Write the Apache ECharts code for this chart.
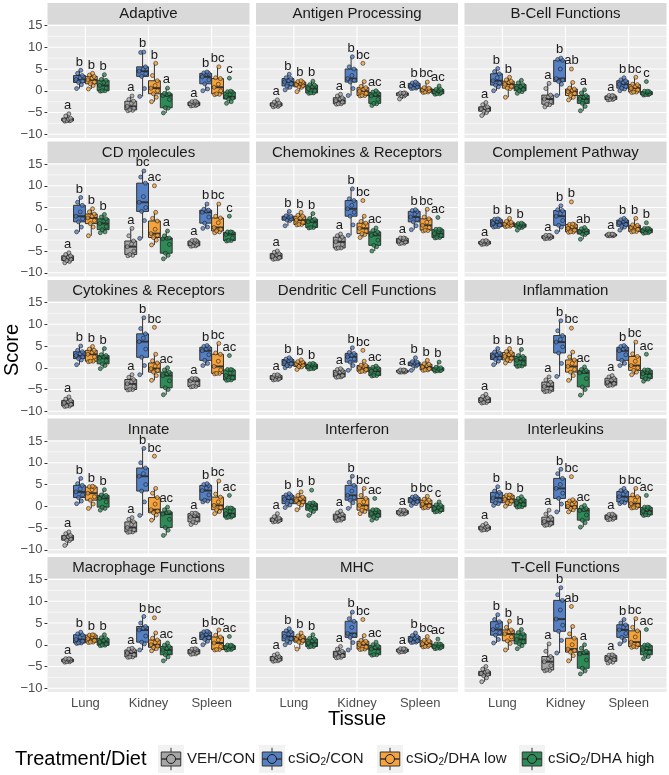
<!DOCTYPE html>
<html><head><meta charset="utf-8">
<script src="https://cdn.jsdelivr.net/npm/echarts@6/dist/echarts.min.js"></script>
<style>html,body{margin:0;padding:0;background:#fff}#c{width:669px;height:775px}</style>
</head><body><div id="c"></div><script>
const tissues = ['Lung', 'Kidney', 'Spleen'];
const treatments = ['VEH/CON', 'cSiO2/CON', 'cSiO2/DHA low', 'cSiO2/DHA high'];
const panelTitles = ['Adaptive', 'Antigen Processing', 'B-Cell Functions', 'CD molecules',
  'Chemokines & Receptors', 'Complement Pathway', 'Cytokines & Receptors', 'Dendritic Cell Functions',
  'Inflammation', 'Innate', 'Interferon', 'Interleukins', 'Macrophage Functions', 'MHC', 'T-Cell Functions'];
const yTicks = [-10, -5, 0, 5, 10, 15];
const yMinor = [-7.5, -2.5, 2.5, 7.5, 12.5];

// Each panel: 12 groups ordered Lung(VEH, CON, DHA low, DHA high), Kidney(...), Spleen(...).
// Each group: first 9 values make the box and whiskers; any further values are outliers.
const adaptive = [
  [-7.0,-6.9,-6.9,-6.8,-6.7,-6.5,-6.3,-5.8,-5.3], [0.5,1.4,1.9,2.2,2.6,3.0,3.5,4.0,4.7],
  [0.4,1.2,1.6,2.0,2.5,2.9,3.3,3.6,4.0], [-0.1,0.0,0.0,0.6,1.2,1.9,2.4,2.6,3.7],
  [-4.6,-4.5,-4.4,-4.0,-3.6,-2.9,-2.4,-2.0,-1.2], [-1.3,0.5,3.3,3.9,4.5,5.0,5.5,8.8,8.9],
  [-2.5,-1.5,-0.7,0.0,0.6,1.2,2.3,3.5,6.3], [-5.1,-4.0,-3.9,-2.0,-1.1,-0.9,-0.7,-0.6,0.6],
  [-3.5,-3.4,-3.4,-3.2,-3.0,-2.8,-2.6,-2.5,-2.4], [0.0,0.4,1.6,2.5,3.2,3.8,4.0,4.1,4.3],
  [-0.9,-0.8,-0.7,0.0,0.8,1.5,2.8,3.0,5.5], [-2.9,-2.5,-1.9,-1.7,-1.4,-0.8,-0.3,-0.2,-0.1,2.9]];
const antigenProcessing = [
  [-3.7,-3.6,-3.5,-3.3,-3.2,-3.0,-2.8,-2.6,-2.1], [0.2,0.8,1.1,1.6,2.0,2.3,2.8,3.0,3.8],
  [-0.2,0.8,0.9,1.2,1.4,1.7,2.0,2.1,2.3], [-0.6,-0.5,-0.5,0.0,0.5,0.9,1.3,1.4,2.2],
  [-3.1,-3.0,-3.0,-2.6,-2.3,-1.9,-1.6,-1.2,-0.8], [-1.1,0.5,2.0,2.4,2.8,3.5,5.0,5.5,7.8],
  [-1.2,-1.1,-1.1,-0.6,-0.1,0.3,0.7,1.0,2.1,6.3], [-3.4,-3.0,-2.9,-2.0,-1.2,-0.8,-0.4,-0.3,0.0],
  [-1.9,-1.2,-1.1,-0.9,-0.8,-0.6,-0.5,-0.5,-0.5], [0.5,0.6,0.6,0.9,1.1,1.4,1.7,1.8,2.0],
  [-0.4,-0.3,-0.3,0.0,0.2,0.4,0.6,0.7,2.0], [-0.8,-0.7,-0.7,-0.4,-0.2,0.0,0.3,0.3,1.1]];
const bCellFunctions = [
  [-5.7,-5.0,-4.7,-4.4,-4.2,-3.9,-3.7,-3.2,-2.7], [0.0,0.9,1.3,1.8,2.3,3.0,3.9,4.4,5.1],
  [-1.5,0.5,0.6,1.0,1.5,1.9,2.2,2.5,3.1], [-0.6,-0.2,0.0,0.3,0.6,1.0,1.4,1.8,2.4],
  [-3.7,-3.2,-3.1,-2.5,-1.9,-1.4,-1.0,0.5,1.7], [-1.1,1.5,2.1,2.5,2.8,5.0,7.0,7.2,7.5],
  [-2.1,-1.5,-1.1,-0.6,-0.2,0.1,0.4,0.6,1.9,5.0], [-4.6,-3.6,-2.9,-2.4,-1.9,-1.5,-1.1,-0.5,0.2],
  [-2.1,-2.0,-2.0,-1.8,-1.6,-1.4,-1.2,-1.1,-1.1], [0.0,0.4,0.6,1.0,1.5,1.9,2.3,2.5,3.0],
  [-0.4,-0.3,-0.3,0.2,0.6,1.0,1.4,1.5,3.1], [-1.0,-0.9,-0.9,-0.7,-0.6,-0.4,-0.2,-0.1,-0.1,2.1]];
const cdMolecules = [
  [-7.7,-7.4,-7.2,-6.9,-6.7,-6.4,-6.1,-5.8,-5.4], [-0.6,0.5,1.7,2.4,3.0,4.0,5.5,6.2,7.3],
  [-1.5,0.5,1.3,2.0,2.6,3.0,3.5,4.0,4.7], [-0.8,-0.6,-0.1,0.6,1.3,1.9,2.4,2.8,3.4],
  [-6.1,-6.0,-5.8,-5.0,-4.0,-3.4,-2.7,-1.5,0.2], [-2.1,2.0,4.1,5.0,6.2,7.5,10.6,12.0,13.4],
  [-3.6,-2.5,-1.9,-1.4,-1.0,0.0,1.9,2.5,3.9,10.0], [-6.8,-6.0,-5.5,-3.5,-2.2,-2.1,-2.0,-1.5,-0.4],
  [-3.9,-3.8,-3.8,-3.5,-3.3,-3.0,-2.7,-2.6,-2.5], [0.2,0.5,1.4,2.8,3.9,4.2,4.4,4.6,5.8],
  [-0.8,-0.6,-0.4,0.0,0.4,1.5,2.6,3.0,5.8], [-2.7,-2.6,-2.6,-2.0,-1.2,-0.9,-0.7,-0.6,-0.6,3.0]];
const chemokines = [
  [-6.9,-6.8,-6.8,-6.5,-6.2,-5.9,-5.6,-5.3,-5.0], [0.8,2.0,2.1,2.4,2.6,2.8,3.0,3.1,4.1],
  [1.0,1.1,1.1,1.6,2.1,2.6,3.0,3.2,3.9], [0.3,0.4,0.4,1.0,1.7,2.0,2.3,2.5,3.6],
  [-4.4,-4.3,-4.3,-3.5,-2.9,-2.3,-1.8,-1.5,-1.1], [-1.4,1.0,3.0,3.9,4.7,5.5,6.6,7.0,9.3],
  [-1.9,-1.2,-1.0,-0.4,0.2,0.8,1.4,1.8,3.0,6.6], [-5.0,-4.0,-3.7,-2.5,-1.4,-1.0,-0.6,-0.3,0.3],
  [-3.3,-3.2,-3.2,-2.9,-2.7,-2.4,-2.1,-2.0,-2.0], [-0.1,0.8,1.7,2.3,2.8,3.5,4.1,4.3,4.5],
  [-0.4,-0.3,-0.2,0.4,0.9,1.6,2.4,2.8,4.6], [-2.0,-1.9,-1.9,-1.4,-1.0,-0.5,-0.1,0.0,0.0,2.7]];
const complementPathway = [
  [-3.5,-3.4,-3.4,-3.2,-3.1,-2.9,-2.8,-2.7,-2.6], [0.5,0.6,0.6,1.0,1.4,1.8,2.2,2.3,2.4],
  [0.6,0.7,0.7,1.0,1.2,1.4,1.6,1.8,2.5], [-0.2,0.4,0.5,0.7,0.9,1.0,1.2,1.3,1.4],
  [-2.2,-2.1,-2.1,-1.9,-1.8,-1.6,-1.5,-1.4,-1.4], [-0.6,0.5,0.9,2.0,3.0,3.6,4.3,4.5,5.4],
  [-0.7,-0.6,-0.6,-0.2,0.2,0.6,1.1,1.1,1.2,6.3], [-2.3,-1.2,-1.1,-0.8,-0.6,-0.3,-0.1,0.1,0.4],
  [-1.5,-1.5,-1.5,-1.4,-1.3,-1.2,-1.2,-1.1,-1.1], [-0.2,0.5,0.7,1.1,1.5,1.8,2.1,2.2,2.5],
  [-0.6,-0.5,-0.5,0.0,0.4,0.6,0.9,1.0,2.5], [-0.9,-0.8,-0.8,-0.5,-0.3,-0.1,0.1,0.2,0.2,1.5]];
const cytokines = [
  [-8.9,-8.8,-8.8,-8.4,-8.1,-7.8,-7.5,-7.2,-6.7], [0.7,1.8,2.1,2.5,2.8,3.2,3.7,4.0,5.0],
  [1.4,1.5,1.5,2.5,3.1,3.5,4.0,4.3,4.9], [-0.2,0.5,0.9,1.6,2.2,2.5,2.8,3.0,4.4],
  [-5.1,-5.0,-5.0,-4.3,-3.7,-3.2,-2.7,-2.2,-1.6], [-1.6,0.5,2.4,4.3,6.0,6.8,7.8,9.0,11.5],
  [-2.9,-1.8,-1.0,-0.6,-0.2,0.4,1.1,1.6,3.1,9.3], [-6.2,-5.0,-4.6,-3.0,-1.8,-1.4,-1.0,-0.5,0.0],
  [-4.4,-4.3,-4.3,-3.6,-3.0,-2.8,-2.6,-2.5,-2.5], [0.5,1.0,1.7,3.0,3.9,4.3,4.7,4.9,5.1],
  [-1.4,-1.3,-1.3,-0.5,0.3,1.5,3.1,3.4,5.6], [-2.9,-2.8,-2.8,-2.3,-1.8,-1.2,-0.5,-0.4,-0.4,2.8]];
const dendritic = [
  [-2.8,-2.7,-2.7,-2.5,-2.3,-2.0,-1.8,-1.7,-1.6], [0.0,0.4,0.5,0.9,1.3,1.6,1.9,2.0,2.3],
  [-0.4,0.2,0.3,0.6,0.9,1.1,1.3,1.4,1.8], [-0.3,-0.2,-0.2,0.0,0.3,0.6,0.8,0.9,1.0],
  [-2.2,-2.1,-2.1,-1.8,-1.4,-1.0,-0.6,-0.4,-0.2], [-0.6,0.5,1.3,2.0,2.5,2.9,3.3,3.5,4.6],
  [-0.9,-0.8,-0.8,-0.4,0.0,0.3,0.5,0.6,1.5,4.0], [-1.9,-1.8,-1.8,-1.3,-0.8,-0.4,0.0,0.1,0.4],
  [-1.0,-1.0,-1.0,-0.9,-0.8,-0.7,-0.6,-0.5,-0.5], [-0.6,0.4,0.5,0.7,0.9,1.1,1.3,1.4,2.3],
  [-0.6,-0.5,-0.5,-0.2,0.2,0.5,0.8,0.9,1.7], [-0.8,-0.7,-0.7,-0.6,-0.4,-0.2,0.0,0.1,1.3]];
const inflammation = [
  [-8.1,-8.0,-8.0,-7.6,-7.3,-7.1,-6.9,-6.6,-6.1], [0.7,1.5,1.9,2.2,2.6,3.0,3.4,3.6,4.4],
  [1.1,1.6,1.8,2.2,2.6,3.0,3.5,3.7,4.4], [0.3,0.4,0.4,1.0,1.7,2.2,2.6,2.8,4.2],
  [-5.5,-5.4,-5.4,-4.8,-4.3,-3.8,-3.3,-2.8,-2.1], [-2.0,1.0,3.4,4.8,5.9,6.5,7.4,8.5,10.8],
  [-2.9,-1.8,-1.0,-0.4,0.3,1.0,1.8,2.5,3.6,9.1], [-6.3,-5.0,-4.4,-2.5,-1.2,-0.9,-0.6,-0.4,0.2],
  [-4.1,-4.0,-4.0,-3.6,-3.3,-2.8,-2.4,-2.1,-1.8], [0.5,1.0,1.7,3.0,3.9,4.3,4.7,4.9,5.1],
  [-1.6,-1.0,-0.6,0.0,0.5,1.5,2.6,3.2,5.9], [-3.1,-2.6,-2.5,-1.9,-1.4,-1.0,-0.6,-0.5,-0.5,3.1]];
const innate = [
  [-9.0,-7.9,-7.8,-7.5,-7.2,-7.0,-6.7,-6.3,-5.9], [0.6,1.2,2.0,2.6,3.3,4.0,4.8,5.2,6.4],
  [-0.5,0.5,1.4,2.2,3.0,3.8,4.4,4.5,4.6], [-0.9,-0.5,-0.2,1.0,1.8,2.2,2.5,2.6,3.8],
  [-6.0,-5.9,-5.9,-5.4,-4.9,-4.2,-3.6,-3.0,-2.6], [-2.1,1.0,3.5,5.0,6.9,7.5,8.8,10.0,13.3],
  [-3.2,-2.0,-1.5,-1.1,-0.8,0.5,2.0,3.0,4.1,11.5], [-6.7,-5.5,-4.9,-3.0,-1.8,-1.5,-1.3,-0.8,-0.2],
  [-4.2,-3.8,-3.6,-3.0,-2.5,-2.1,-1.7,-1.6,-1.6], [1.0,1.2,1.4,2.6,3.6,4.2,4.8,5.0,5.2],
  [-1.7,-1.2,-0.8,-0.3,0.2,1.0,2.1,2.8,5.8], [-2.6,-2.5,-2.5,-2.1,-1.7,-1.1,-0.5,-0.4,-0.4,2.5]];
const interferon = [
  [-3.6,-3.5,-3.5,-3.3,-3.1,-2.9,-2.7,-2.4,-1.7], [-0.3,0.3,0.6,1.1,1.6,2.0,2.5,2.6,2.9],
  [-0.8,0.3,0.6,1.0,1.3,1.7,2.1,2.5,3.3], [-2.1,-1.2,-0.9,-0.4,0.0,0.3,0.6,0.7,0.8,3.7],
  [-3.3,-3.2,-3.2,-2.8,-2.5,-2.1,-1.8,-1.5,-1.1], [-0.5,0.8,1.4,2.0,2.5,3.5,4.8,5.5,6.9],
  [-1.7,-1.2,-0.9,-0.3,0.2,1.0,1.8,2.5,4.1], [-3.2,-2.8,-2.5,-2.1,-1.7,-1.3,-0.9,-0.8,-0.8,1.8],
  [-1.8,-1.8,-1.8,-1.6,-1.4,-1.2,-1.0,-0.9,-0.9], [0.2,0.6,0.8,1.1,1.4,1.7,2.0,2.1,2.3],
  [-0.4,-0.3,-0.3,0.1,0.5,1.0,1.4,1.6,2.3], [-1.3,-1.2,-1.2,-0.8,-0.5,-0.2,0.2,0.3,1.0]];
const interleukins = [
  [-5.5,-5.4,-5.4,-5.2,-5.0,-4.8,-4.6,-4.4,-4.0], [0.2,0.6,0.8,1.4,1.9,2.5,3.2,3.5,4.5],
  [0.0,0.6,0.8,1.2,1.6,2.0,2.5,2.5,2.6], [-0.2,-0.1,-0.1,0.4,0.8,1.2,1.6,1.8,2.2],
  [-4.4,-4.3,-4.3,-3.9,-3.5,-3.0,-2.5,-1.8,-0.9], [-1.3,0.5,1.8,3.0,4.1,5.0,6.4,7.5,8.5],
  [-1.3,-0.8,-0.5,-0.2,0.0,0.5,1.1,1.2,1.5,6.8], [-4.8,-3.8,-3.2,-2.0,-1.0,-0.8,-0.5,-0.2,0.2],
  [-3.1,-3.0,-3.0,-2.7,-2.5,-2.2,-2.0,-1.9,-1.8], [0.6,0.8,1.0,1.6,2.2,2.8,3.4,3.6,4.1],
  [-0.4,-0.3,-0.3,0.2,0.6,1.4,2.2,2.6,4.1], [-2.1,-2.0,-2.0,-1.5,-1.1,-0.7,-0.3,-0.2,-0.2,2.5]];
const macrophage = [
  [-4.0,-3.9,-3.9,-3.7,-3.6,-3.4,-3.3,-3.2,-3.2], [0.3,0.4,0.4,0.8,1.2,1.8,2.3,2.5,2.9],
  [0.5,0.6,0.6,1.0,1.4,1.8,2.2,2.2,2.3], [-0.2,-0.1,-0.1,0.2,0.6,1.0,1.4,1.6,2.3],
  [-2.9,-2.8,-2.8,-2.3,-1.9,-1.5,-1.2,-1.0,-0.8], [-1.2,0.2,0.6,2.0,3.4,3.8,4.2,5.0,6.5],
  [-1.4,-0.9,-0.6,-0.3,0.0,0.5,1.1,1.5,2.7,6.2], [-3.7,-2.8,-2.3,-1.7,-1.2,-0.8,-0.4,-0.1,0.4],
  [-2.2,-2.1,-2.1,-1.8,-1.5,-1.3,-1.1,-1.0,-0.9], [0.0,0.8,1.2,1.6,2.0,2.4,2.9,3.0,3.1],
  [-1.2,-1.1,-1.1,-0.4,0.4,1.1,1.8,2.2,3.4], [-1.2,-1.1,-1.1,-0.8,-0.6,-0.4,-0.2,-0.1,-0.1,1.9]];
const mhc = [
  [-3.8,-3.7,-3.7,-3.4,-3.2,-2.9,-2.7,-2.4,-2.1], [0.0,0.5,0.9,1.4,1.9,2.5,3.0,3.2,3.7],
  [-1.0,0.5,0.6,1.0,1.3,1.6,1.9,2.0,2.7], [-0.5,-0.4,-0.4,0.0,0.4,0.9,1.3,1.5,2.3],
  [-3.0,-2.9,-2.9,-2.5,-2.1,-1.8,-1.5,-1.0,-0.4], [-1.2,0.5,1.7,2.2,2.6,4.0,5.4,6.0,7.5],
  [-1.1,-1.0,-1.0,-0.5,0.0,0.4,0.8,1.0,2.1,5.8], [-2.4,-2.3,-2.3,-1.6,-1.0,-0.6,-0.2,0.0,0.6],
  [-1.7,-1.6,-1.6,-1.4,-1.3,-1.1,-1.0,-0.9,-0.9], [0.5,0.6,0.6,0.9,1.2,1.5,1.9,2.1,2.7],
  [-0.5,-0.4,-0.4,-0.1,0.2,0.5,0.9,1.0,1.9], [-0.9,-0.8,-0.8,-0.6,-0.4,-0.2,0.1,0.2,0.2,1.3]];
const tCellFunctions = [
  [-8.5,-7.6,-7.1,-6.8,-6.6,-6.3,-6.1,-5.6,-5.0], [0.4,1.2,2.2,2.8,3.5,4.3,5.3,5.8,6.9],
  [-1.2,0.3,0.9,1.8,2.5,3.0,3.4,4.0,5.4], [-0.9,-0.2,0.2,0.7,1.2,1.8,2.5,2.8,3.5],
  [-6.0,-5.9,-5.8,-4.8,-3.9,-3.2,-2.7,-1.5,0.2], [-1.9,1.0,3.1,4.5,5.9,8.0,10.2,11.5,13.1],
  [-3.7,-2.5,-1.7,-1.3,-1.0,0.0,1.5,2.5,4.2,8.8], [-6.7,-6.0,-5.4,-3.5,-2.1,-1.8,-1.5,-0.8,0.0],
  [-4.2,-4.0,-3.8,-3.4,-3.1,-2.8,-2.5,-2.4,-2.3], [0.2,1.0,1.7,2.6,3.4,4.0,4.6,5.0,5.8],
  [-0.6,-0.5,-0.4,0.1,0.6,1.8,3.2,4.0,6.0], [-3.2,-2.7,-2.3,-1.7,-1.2,-0.7,-0.2,-0.1,0.0,3.5]];

const panelData = [adaptive, antigenProcessing, bCellFunctions, cdMolecules, chemokines,
  complementPathway, cytokines, dendritic, inflammation, innate, interferon, interleukins,
  macrophage, mhc, tCellFunctions];

// significance letters, 12 per panel, same group order
const letters = [
  'a b b b a b b a a b bc c', 'a b b b a b bc ac a b bc ac', 'a b b - a b ab a a b bc c',
  'a b b b a bc ac a a b bc c', 'a b b b a b bc ac a b bc ac', 'a b b b a b b ab a b b b',
  'a b b b a b bc ac a b bc ac', 'a b b b a b bc ac a b b b', 'a b b b a b bc ac a b bc ac',
  'a b b b a b bc ac a b bc ac', 'a b b b a b bc ac a b bc c', 'a b b b a b bc ac a b bc ac',
  'a b b b a b bc ac a b bc ac', 'a b b b a b bc ac a b bc ac', 'a b b b a b ab a a b bc ac'];

// ---------- styling / layout ----------
const FONT = '"Liberation Sans", Arial, Helvetica, sans-serif';
const colors = ['#A6A6A6', '#5581C4', '#F5A33D', '#2E8B57'];
const colLeft = [47.5, 256, 464.5], panelW = 202;
const rowTop0 = 24.5, rowStep = 138.5, plotH = 113.5, stripH = 21.5;
const Y_MIN = -10.86, Y_MAX = 15.23;
const DODGE = 0.1875, HALF = 0.09375;
const jit = [-0.045, 0.03, -0.015, 0.05, -0.055, 0.012, 0.045, -0.03, 0.02, 0.0, -0.02];
const LETTER_GAP = 1.9;

function q7(s, p) { const h = (s.length - 1) * p, lo = Math.floor(h), hi = Math.ceil(h); return s[lo] + (h - lo) * (s[hi] - s[lo]); }
const fmtY = v => v < 0 ? '\u2212' + (-v) : String(v);

function renderGrid(params, api) {
  const cs = params.coordSys, k = api.value(2);
  if (k === 2) {
    const x = api.coord([api.value(0), 0])[0];
    return { type: 'line', shape: { x1: x, y1: cs.y, x2: x, y2: cs.y + cs.height }, style: { stroke: '#FFFFFF', lineWidth: 1.1 } };
  }
  const y = api.coord([2, api.value(1)])[1];
  return { type: 'line', shape: { x1: cs.x, y1: y, x2: cs.x + cs.width, y2: y }, style: { stroke: '#FFFFFF', lineWidth: k === 0 ? 1.1 : 0.55 } };
}
function renderBox(params, api) {
  const x = api.value(0), t = api.value(6);
  const l = api.coord([x - HALF, 0])[0], r = api.coord([x + HALF, 0])[0], cx = api.coord([x, 0])[0];
  const yv = i => api.coord([x, api.value(i)])[1];
  const yLo = yv(1), yQ1 = yv(2), yMed = yv(3), yQ3 = yv(4), yHi = yv(5);
  const st = { stroke: '#333333', lineWidth: 1 };
  return { type: 'group', children: [
    { type: 'line', shape: { x1: cx, y1: yHi, x2: cx, y2: yQ3 }, style: st },
    { type: 'line', shape: { x1: cx, y1: yQ1, x2: cx, y2: yLo }, style: st },
    { type: 'rect', shape: { x: l, y: yQ3, width: r - l, height: Math.max(yQ1 - yQ3, 0.5) }, style: { fill: colors[t], stroke: '#333333', lineWidth: 1 } },
    { type: 'line', shape: { x1: l, y1: yMed, x2: r, y2: yMed }, style: { stroke: '#333333', lineWidth: 2 } }
  ] };
}

const grids = [], xAxes = [], yAxes = [], series = [], graphics = [];
panelData.forEach((groups, p) => {
  const row = Math.floor(p / 3), col = p % 3;
  const top = rowTop0 + row * rowStep, left = colLeft[col];
  const bottomRow = row === 4, firstCol = col === 0;
  grids.push({ left, top, width: panelW, height: plotH, show: true, backgroundColor: '#EBEBEB', borderWidth: 0, containLabel: false });
  xAxes.push({ gridIndex: p, type: 'value', min: 0.4, max: 3.6, axisLine: { show: false }, splitLine: { show: false },
    axisTick: { show: bottomRow, customValues: [1, 2, 3], length: 3, lineStyle: { color: '#333333', width: 1 } },
    axisLabel: { show: bottomRow, customValues: [1, 2, 3], formatter: v => tissues[Math.round(v) - 1], fontSize: 13, color: '#4D4D4D', fontFamily: FONT, margin: 5 } });
  yAxes.push({ gridIndex: p, type: 'value', min: Y_MIN, max: Y_MAX, axisLine: { show: false }, splitLine: { show: false },
    axisTick: { show: firstCol, customValues: yTicks, length: 3, lineStyle: { color: '#333333', width: 1 } },
    axisLabel: { show: firstCol, customValues: yTicks, formatter: fmtY, fontSize: 13, color: '#4D4D4D', fontFamily: FONT, margin: 5 } });

  const gl = [];
  yTicks.forEach(v => gl.push([2, v, 0]));
  yMinor.forEach(v => gl.push([2, v, 1]));
  [1, 2, 3].forEach(v => gl.push([v, 0, 2]));
  series.push({ type: 'custom', xAxisIndex: p, yAxisIndex: p, z: 1, silent: true, clip: false, data: gl, renderItem: renderGrid });

  const boxData = [], pts = [], letterData = [], letterText = [];
  const lets = letters[p].split(' ');
  groups.forEach((vals, g) => {
    const ti = Math.floor(g / 4), t = g % 4;
    const x = ti + 1 + (t - 1.5) * DODGE;
    const boxVals = vals.slice(0, 9).slice().sort((a, b) => a - b);
    boxData.push([x, boxVals[0], q7(boxVals, 0.25), q7(boxVals, 0.5), q7(boxVals, 0.75), boxVals[boxVals.length - 1], t]);
    vals.forEach((v, i) => pts.push({ value: [x + jit[i % jit.length], v], itemStyle: { color: colors[t] } }));
    if (lets[g] && lets[g] !== '-') {
      letterData.push([x, Math.max(...vals) + LETTER_GAP]);
      letterText.push(lets[g]);
    }
  });
  series.push({ type: 'custom', xAxisIndex: p, yAxisIndex: p, z: 2, silent: true, clip: false,
    encode: { x: 0, y: [1, 2, 3, 4, 5] }, data: boxData, renderItem: renderBox });
  series.push({ type: 'scatter', xAxisIndex: p, yAxisIndex: p, z: 3, silent: true, symbol: 'circle', symbolSize: 4,
    itemStyle: { borderColor: '#1A1A1A', borderWidth: 0.7 }, data: pts });
  series.push({ type: 'custom', xAxisIndex: p, yAxisIndex: p, z: 4, silent: true, clip: false, data: letterData,
    renderItem: (params, api) => {
      const c = api.coord([api.value(0), api.value(1)]);
      return { type: 'text', x: c[0], y: c[1], style: { text: letterText[params.dataIndex], fontSize: 13, fontFamily: FONT,
        fill: '#1A1A1A', align: 'center', verticalAlign: 'middle', textAlign: 'center', textVerticalAlign: 'middle' } };
    } });

  // facet strip
  graphics.push({ type: 'rect', shape: { x: left, y: top - stripH, width: panelW, height: stripH }, style: { fill: '#D9D9D9' }, silent: true });
  graphics.push({ type: 'text', x: left + panelW / 2, y: top - stripH / 2 + 0.5, silent: true,
    style: { text: panelTitles[p], fontSize: 15, fontFamily: FONT, fill: '#1A1A1A', align: 'center', verticalAlign: 'middle', textAlign: 'center', textVerticalAlign: 'middle' } });
});

// axis titles
graphics.push({ type: 'text', x: (colLeft[0] + colLeft[2] + panelW) / 2, y: 719, silent: true,
  style: { text: 'Tissue', fontSize: 20, fontFamily: FONT, fill: '#000000', align: 'center', verticalAlign: 'middle', textAlign: 'center', textVerticalAlign: 'middle' } });
graphics.push({ type: 'text', x: 12, y: 350, rotation: Math.PI / 2, silent: true,
  style: { text: 'Score', fontSize: 20, fontFamily: FONT, fill: '#000000', align: 'center', verticalAlign: 'middle', textAlign: 'center', textVerticalAlign: 'middle' } });

// legend
const LEG_Y = 759;
graphics.push({ type: 'text', x: 15, y: LEG_Y, silent: true,
  style: { text: 'Treatment/Diet', fontSize: 20, fontFamily: FONT, fill: '#000000', align: 'left', verticalAlign: 'middle', textAlign: 'left', textVerticalAlign: 'middle' } });
const keyX = [158, 259, 377, 519], KW = 26, KH = 28;
const legendText = ['VEH/CON', 'cSiO{s|2}/CON', 'cSiO{s|2}/DHA low', 'cSiO{s|2}/DHA high'];
treatments.forEach((name, t) => {
  const kx = keyX[t], ky = LEG_Y - KH / 2, cx = kx + KW / 2;
  graphics.push({ type: 'rect', shape: { x: kx, y: ky, width: KW, height: KH }, style: { fill: '#F2F2F2' }, silent: true });
  graphics.push({ type: 'line', shape: { x1: cx, y1: ky + KH * 0.1, x2: cx, y2: ky + KH * 0.9 }, style: { stroke: '#333333', lineWidth: 1 }, silent: true });
  graphics.push({ type: 'rect', shape: { x: kx + KW * 0.125, y: ky + KH * 0.25, width: KW * 0.75, height: KH * 0.5 }, style: { fill: colors[t], stroke: '#333333', lineWidth: 1 }, silent: true });
  graphics.push({ type: 'line', shape: { x1: kx + KW * 0.125, y1: LEG_Y, x2: kx + KW * 0.875, y2: LEG_Y }, style: { stroke: '#333333', lineWidth: 1.5 }, silent: true });
  graphics.push({ type: 'circle', shape: { cx: cx, cy: LEG_Y, r: 4.5 }, style: { fill: colors[t], stroke: '#1A1A1A', lineWidth: 1 }, silent: true });
  graphics.push({ type: 'text', x: kx + KW + 3, y: LEG_Y, silent: true,
    style: { text: legendText[t], fontSize: 15, fontFamily: FONT, fill: '#1A1A1A', align: 'left', verticalAlign: 'middle', textAlign: 'left', textVerticalAlign: 'middle',
      rich: { s: { fontSize: 10, fontFamily: FONT, fill: '#1A1A1A', padding: [7, 0, 0, 0] } } } });
});

const chart = echarts.init(document.getElementById('c'), null, { renderer: 'canvas' });
chart.setOption({
  backgroundColor: '#FFFFFF',
  animation: false,
  grid: grids, xAxis: xAxes, yAxis: yAxes, series: series,
  graphic: { elements: graphics }
});
</script></body></html>
